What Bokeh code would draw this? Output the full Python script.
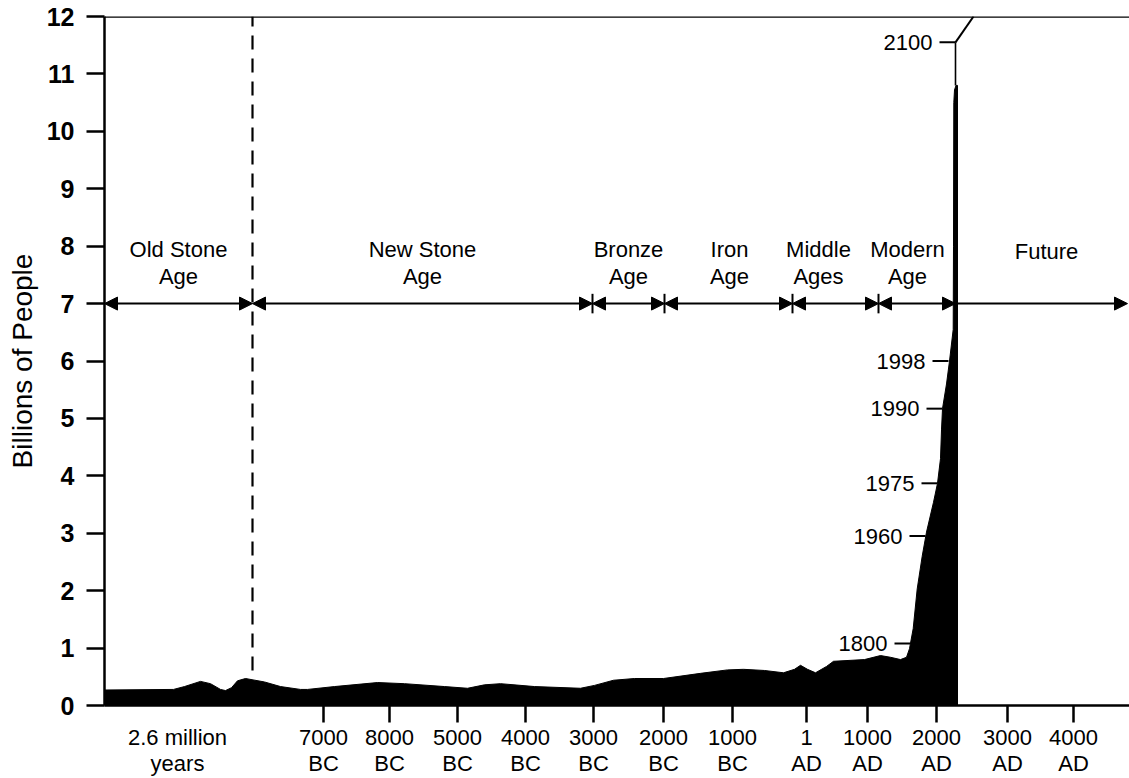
from bokeh.plotting import figure
from bokeh.models import (Range1d, FixedTicker, Arrow, NormalHead, Span,
                          ColumnDataSource)
from bokeh.embed import file_html
from bokeh.resources import INLINE
from bokeh.core.properties import value

FONT = "Liberation Sans"

# ---- data -------------------------------------------------------------
# position along the (non-linear) timeline axis, and world population (billions)
timeline = [0, 69, 80, 96, 106, 116, 121, 127, 133, 141, 160, 176, 196, 203, 230,
            273, 300, 340, 363, 380, 396, 430, 476, 490, 509, 530, 559, 596, 623,
            639, 660, 679, 690, 696, 703, 711, 722, 729, 760, 776, 786, 796, 802,
            805, 808.7, 812.7, 817.7, 822, 829, 833, 836, 837, 838, 842, 845,
            848.7, 849, 849.3, 850, 851.5, 853]
population = [0.27, 0.28, 0.33, 0.42, 0.38, 0.28, 0.26, 0.31, 0.43, 0.47, 0.41,
              0.33, 0.28, 0.28, 0.33, 0.40, 0.38, 0.33, 0.30, 0.36, 0.38, 0.33,
              0.30, 0.35, 0.44, 0.47, 0.47, 0.56, 0.62, 0.63, 0.61, 0.57, 0.63,
              0.70, 0.63, 0.57, 0.68, 0.77, 0.80, 0.87, 0.84, 0.80, 0.84, 0.99,
              1.34, 2.03, 2.60, 3.02, 3.54, 3.87, 4.30, 4.80, 5.17, 5.60, 6.00,
              6.55, 8.00, 10.50, 10.72, 10.80, 10.80]

# projection to 2100
proj_timeline = [851, 851, 869]
proj_population = [10.8, 11.55, 12.0]

# year markers on the curve
marker_years = ["2100", "1998", "1990", "1975", "1960", "1800"]
marker_timeline = [851, 844, 838, 833, 821, 806]
marker_population = [11.55, 6.0, 5.17, 3.87, 2.95, 1.08]

# x axis ticks
x_tick_pos = [219, 285, 353, 421, 489, 559, 628, 702, 763, 832, 903, 969]
x_tick_labels = ["7000\nBC", "8000\nBC", "5000\nBC", "4000\nBC", "3000\nBC",
                 "2000\nBC", "1000\nBC", "1\nAD", "1000\nAD", "2000\nAD",
                 "3000\nAD", "4000\nAD"]
first_label = "2.6 million\nyears"
first_label_pos = 73

y_ticks = list(range(0, 13))

# periods
period_names = ["Old Stone\nAge", "New Stone\nAge", "Bronze\nAge", "Iron\nAge",
                "Middle\nAges", "Modern\nAge", "Future"]
period_bounds = [0, 148, 488, 560, 688, 774, 851, 1023]
period_label_pos = [74, 318, 524, 625, 714, 803, 942]
period_level = 7
stone_age_end = 148

# ---- figure -----------------------------------------------------------
p = figure(width=1129, height=778, x_range=Range1d(0, 1025), y_range=Range1d(0, 12),
           output_backend="svg", toolbar_location=None,
           min_border_left=104, min_border_right=0, min_border_top=16,
           min_border_bottom=71)
p.grid.visible = False
p.outline_line_color = None
p.background_fill_color = "white"
p.border_fill_color = "white"

# y axis
yax = p.yaxis[0]
yax.ticker = FixedTicker(ticks=y_ticks)
yax.axis_label = "Billions of People"
yax.axis_label_text_font = FONT
yax.axis_label_text_font_size = "28px"
yax.axis_label_text_font_style = "normal"
yax.axis_label_text_color = "black"
yax.axis_label_standoff = 6
yax.major_label_text_font = FONT
yax.major_label_text_font_style = "bold"
yax.major_label_text_font_size = "25px"
yax.major_label_text_color = "black"
yax.major_label_standoff = 12
yax.major_tick_out = 18
yax.major_tick_in = 0
yax.minor_tick_out = 0
yax.minor_tick_in = 0
yax.axis_line_width = 2.5
yax.major_tick_line_width = 2.5

# x axis: labels on major ticks (no marks), tick marks drawn as minor ticks
lab_ticks = [first_label_pos] + x_tick_pos
lab_texts = [first_label] + x_tick_labels
xax = p.xaxis[0]
xax.ticker = FixedTicker(ticks=lab_ticks, minor_ticks=x_tick_pos)
xax.major_label_overrides = {t: l for t, l in zip(lab_ticks, lab_texts)}
xax.major_label_text_font = FONT
xax.major_label_text_font_size = "22px"
xax.major_label_text_color = "black"
xax.major_label_text_line_height = 1.04
xax.major_label_standoff = 2
xax.major_tick_out = 0
xax.major_tick_in = 0
xax.major_tick_line_color = None
xax.minor_tick_out = 17
xax.minor_tick_in = 0
xax.minor_tick_line_color = "black"
xax.minor_tick_line_width = 2.5
xax.axis_line_width = 2.5

# top border
p.add_layout(Span(location=12, dimension="width", line_color="black", line_width=2.5))

# population fill
px = [timeline[0]] + timeline + [timeline[-1]]
py = [0] + population + [0]
p.patch(px, py, fill_color="black", line_color="black", line_width=1)

# projection line
p.line(proj_timeline[:2], proj_population[:2], line_color="black", line_width=1.6)
p.line(proj_timeline[1:], proj_population[1:], line_color="black", line_width=2)

# dashed stone-age divider
p.line([stone_age_end, stone_age_end], [0.61, 12], line_color="black",
       line_width=2.2, line_dash="14 9")

# year markers
msrc = ColumnDataSource(dict(
    x1=marker_timeline,
    x0=[m - 16 for m in marker_timeline],
    y=marker_population,
    t=marker_years))
p.segment(x0="x0", y0="y", x1="x1", y1="y", source=msrc, line_color="black",
          line_width=2)
p.text(x="x0", y="y", text="t", source=msrc, x_offset=-7, text_align="right",
       text_baseline="middle", text_font=value(FONT), text_font_size="22px",
       text_color="black")

# period arrows
asrc = ColumnDataSource(dict(x0=period_bounds[:-2], x1=period_bounds[1:-1],
                             y=[period_level] * (len(period_bounds) - 2)))
p.add_layout(Arrow(start=NormalHead(size=13, fill_color="black", line_color="black"),
                   end=NormalHead(size=13, fill_color="black", line_color="black"),
                   x_start="x0", y_start="y", x_end="x1", y_end="y", source=asrc,
                   line_color="black", line_width=2))
p.add_layout(Arrow(end=NormalHead(size=13, fill_color="black", line_color="black"),
                   x_start=period_bounds[-2], y_start=period_level,
                   x_end=period_bounds[-1], y_end=period_level,
                   line_color="black", line_width=2))
inner = period_bounds[2:-2]
p.segment(x0=inner, y0=[period_level - 0.17] * len(inner), x1=inner,
          y1=[period_level + 0.17] * len(inner), line_color="black", line_width=2)

# period names
lsrc = ColumnDataSource(dict(x=period_label_pos,
                             y=[7.70] * 6 + [7.90],
                             t=period_names))
p.text(x="x", y="y", text="t", source=lsrc, text_align="center",
       text_baseline="middle", text_font=value(FONT), text_font_size="22px",
       text_color="black", text_line_height=1.08)

open("out.html", "w").write(file_html(p, INLINE))
